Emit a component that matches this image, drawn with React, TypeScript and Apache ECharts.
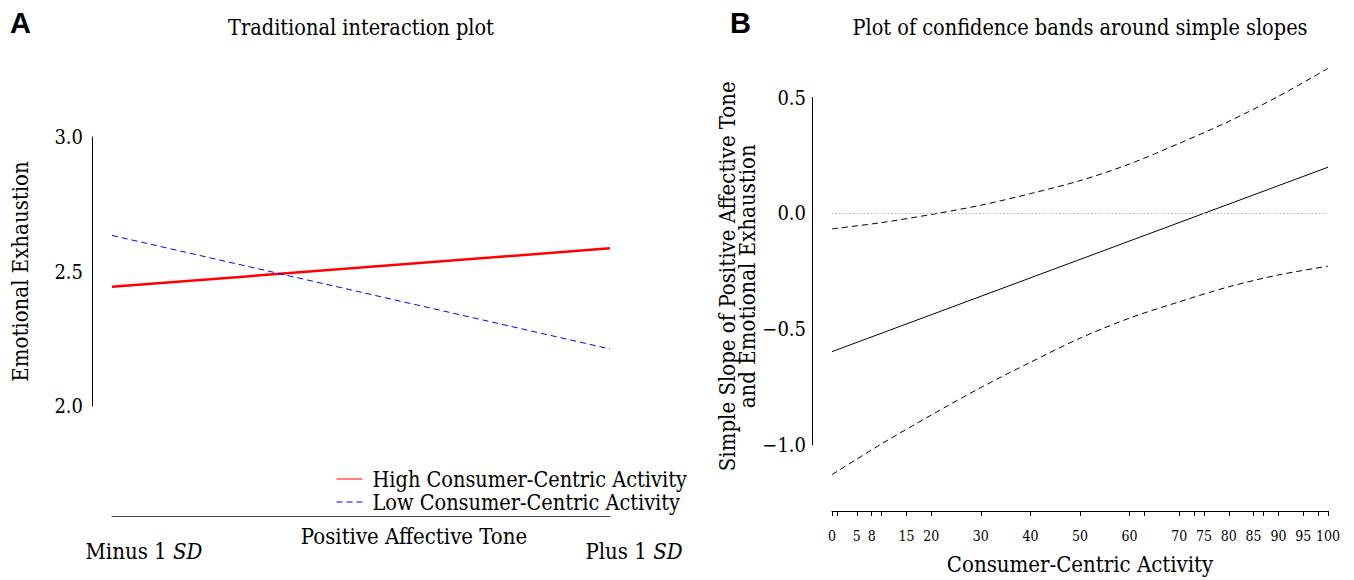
import React, { useEffect, useRef } from 'react';
import * as echarts from 'echarts';

// ---------- Panel A data ----------
const toneLevels = ['Minus 1 SD', 'Plus 1 SD'];
const toneX = [0, 1];
const highCCA = [2.443, 2.586];
const lowCCA = [2.634, 2.212];
const seriesNames = ['High Consumer-Centric Activity', 'Low Consumer-Centric Activity'];

// ---------- Panel B data ----------
const ccaX = [0, 10, 20, 30, 40, 50, 60, 70, 80, 90, 100];
const upperBand = [-0.067, -0.04, -0.005, 0.035, 0.085, 0.141, 0.213, 0.302, 0.397, 0.505, 0.626];
const lowerBand = [-1.128, -0.995, -0.871, -0.752, -0.643, -0.539, -0.452, -0.382, -0.317, -0.266, -0.228];
const slopeX = [0, 100];
const slopeY = [-0.597, 0.199];
const ccaTickValues = [0, 1, 5, 8, 10, 15, 20, 30, 40, 50, 60, 63, 70, 73, 75, 80, 85, 87, 90, 95, 98, 100];
const ccaLabelValues = [0, 5, 8, 15, 20, 30, 40, 50, 60, 70, 75, 80, 85, 90, 95, 100];

const FONT = "'DejaVu Serif Condensed', 'DejaVu Serif', serif";
const fmt = (v: number) => (v < 0 ? '\u2212' : '') + Math.abs(v).toFixed(1);

export default function App() {
  const ref = useRef<HTMLDivElement>(null);
  useEffect(() => {
    document.body.style.margin = '0';
    const chart = echarts.init(ref.current!, null, { renderer: 'svg' });
    const txt = { color: '#000', fontFamily: FONT };
    const option: any = {
      animation: false,
      backgroundColor: '#fff',
      textStyle: { fontFamily: FONT },
      grid: [
        { left: 112, width: 498, top: 137, height: 269 },
        { left: 832, width: 496, top: 97.5, height: 352.5 },
      ],
      xAxis: [
        {
          gridIndex: 0, type: 'value', min: 0, max: 1, offset: 110,
          axisLine: { show: true, onZero: false, lineStyle: { color: '#444', width: 1.2 } },
          axisTick: { show: false }, axisLabel: { show: false }, splitLine: { show: false },
        },
        {
          gridIndex: 1, type: 'value', min: 0, max: 100, offset: 66,
          axisLine: { show: true, onZero: false, lineStyle: { color: '#000', width: 1 } },
          axisTick: { show: true, length: 5, customValues: ccaTickValues, lineStyle: { color: '#000' } },
          axisLabel: { show: true, customValues: ccaLabelValues, margin: 18, ...txt, fontSize: 14 },
          splitLine: { show: false },
          name: 'Consumer-Centric Activity', nameLocation: 'middle', nameGap: 42,
          nameTextStyle: { ...txt, fontSize: 22 },
        },
      ],
      yAxis: [
        {
          gridIndex: 0, type: 'value', min: 2, max: 3, interval: 0.5, offset: 20,
          axisLine: { show: true, onZero: false, lineStyle: { color: '#000', width: 1 } },
          axisTick: { show: false },
          axisLabel: { margin: 9, ...txt, fontSize: 20, formatter: fmt },
          splitLine: { show: false },
          name: 'Emotional Exhaustion', nameLocation: 'middle', nameGap: 61, nameRotate: 90,
          nameTextStyle: { ...txt, fontSize: 22 },
        },
        {
          gridIndex: 1, type: 'value', min: -1, max: 0.5, interval: 0.5, offset: 20,
          axisLine: { show: true, onZero: false, lineStyle: { color: '#000', width: 1 } },
          axisTick: { show: false },
          axisLabel: { margin: 6, ...txt, fontSize: 20, formatter: fmt },
          splitLine: { show: false },
          name: 'Simple Slope of Positive Affective Tone\nand Emotional Exhaustion',
          nameLocation: 'middle', nameGap: 26, nameRotate: 90,
          nameTextStyle: { ...txt, fontSize: 22, lineHeight: 20, padding: [0, 10, 0, 0] },
        },
      ],
      legend: {
        orient: 'vertical', left: 336, top: 468, padding: 0, itemWidth: 26, itemHeight: 14, itemGap: 1,
        data: seriesNames,
        lineStyle: { width: 1 },
        itemStyle: { opacity: 0 },
        textStyle: { ...txt, fontSize: 21.5, lineHeight: 21, padding: [0, 0, 0, 5] },
      },
      series: [
        {
          name: seriesNames[0], type: 'line', xAxisIndex: 0, yAxisIndex: 0, symbol: 'none',
          data: toneX.map((x, i) => [x, highCCA[i]]),
          lineStyle: { color: '#ff0000', width: 2.5 }, itemStyle: { color: '#ff0000' },
        },
        {
          name: seriesNames[1], type: 'line', xAxisIndex: 0, yAxisIndex: 0, symbol: 'none',
          data: toneX.map((x, i) => [x, lowCCA[i]]),
          lineStyle: { color: '#0000ff', width: 1, type: [6, 4] }, itemStyle: { color: '#0000ff' },
        },
        {
          name: 'Simple slope', type: 'line', xAxisIndex: 1, yAxisIndex: 1, symbol: 'none', clip: false,
          data: slopeX.map((x, i) => [x, slopeY[i]]),
          lineStyle: { color: '#000', width: 1 },
          markLine: {
            silent: true, symbol: 'none', label: { show: false },
            lineStyle: { color: '#b5b5b5', width: 1, type: [1.5, 2] },
            data: [{ yAxis: 0 }],
          },
        },
        {
          name: 'Upper band', type: 'line', xAxisIndex: 1, yAxisIndex: 1, symbol: 'none', clip: false, smooth: 0.3,
          data: ccaX.map((x, i) => [x, upperBand[i]]),
          lineStyle: { color: '#000', width: 1, type: [6, 4] },
        },
        {
          name: 'Lower band', type: 'line', xAxisIndex: 1, yAxisIndex: 1, symbol: 'none', clip: false, smooth: 0.3,
          data: ccaX.map((x, i) => [x, lowerBand[i]]),
          lineStyle: { color: '#000', width: 1, type: [6, 4] },
        },
      ],
      graphic: [
        { type: 'text', left: 10, top: 8, style: { text: 'A', fill: '#000', font: "bold 29px 'Liberation Sans Narrow', 'Liberation Sans', sans-serif" } },
        { type: 'text', left: 730, top: 8, style: { text: 'B', fill: '#000', font: "bold 29px 'Liberation Sans Narrow', 'Liberation Sans', sans-serif" } },
        { type: 'text', x: 361, y: 27, style: { text: 'Traditional interaction plot', fill: '#000', fontFamily: FONT, fontSize: 21.5, align: 'center', verticalAlign: 'middle' } },
        { type: 'text', x: 1080, y: 27, style: { text: 'Plot of confidence bands around simple slopes', fill: '#000', fontFamily: FONT, fontSize: 21.5, align: 'center', verticalAlign: 'middle' } },
        { type: 'text', x: 414, y: 536, style: { text: 'Positive Affective Tone', fill: '#000', fontFamily: FONT, fontSize: 22, align: 'center', verticalAlign: 'middle' } },
        ...toneLevels.map((lab, i) => {
          const parts = lab.split(' ');
          const italic = parts.pop();
          return {
            type: 'text', x: [144, 634][i], y: 551,
            style: {
              text: `{n|${parts.join(' ')} }{i|${italic}}`, align: 'center', verticalAlign: 'middle',
              fontFamily: FONT, fontSize: 22, fill: '#000',
              rich: { n: { fontFamily: FONT, fontSize: 22, fill: '#000' }, i: { fontFamily: FONT, fontSize: 22, fontStyle: 'italic', fill: '#000' } },
            },
          };
        }),
      ],
    };
    chart.setOption(option);
    return () => chart.dispose();
  }, []);
  return <div ref={ref} style={{ position: 'fixed', left: 0, top: 0, width: 1354, height: 580 }} />;
}
